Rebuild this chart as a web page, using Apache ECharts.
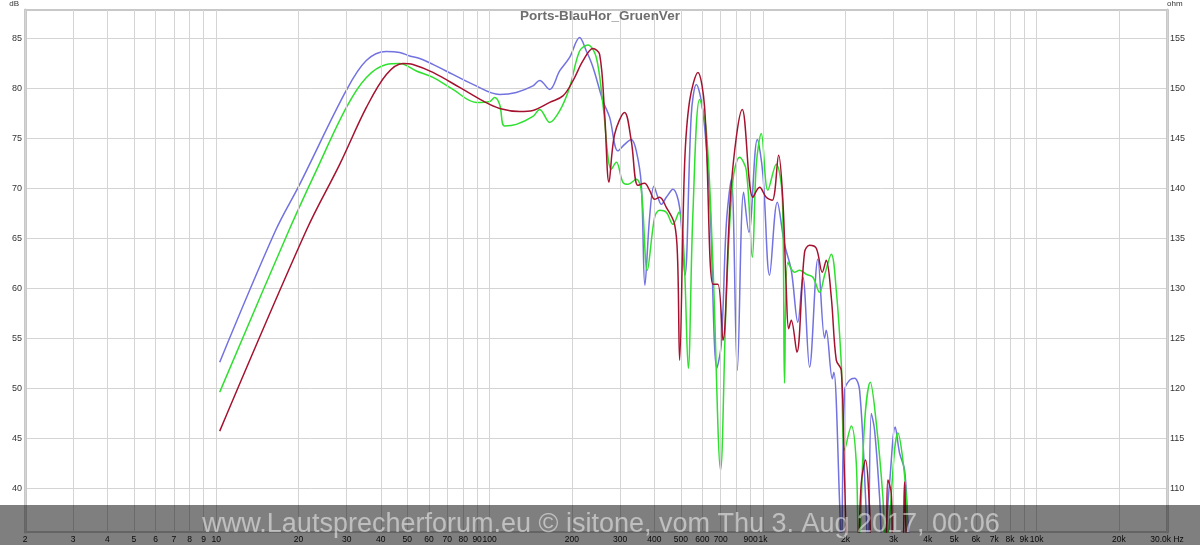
<!DOCTYPE html>
<html>
<head>
<meta charset="utf-8">
<script src="https://cdn.jsdelivr.net/npm/echarts@6/dist/echarts.min.js"></script>
<style>html,body{margin:0;padding:0;background:#fff}#c{width:1200px;height:545px}</style>
</head>
<body>
<div id="c"></div>
<script>
// ---- data (frequency in Hz, level in dB) ----
const blueHz = [10.3,16.5,20.2,29.9,35.4,41.9,46.9,51.0,55.5,62.0,73.4,86.9,108.8,125.2,144,152.4,165.8,180.3,196.1,213.3,225.8,235.4,242.1,259.6,274.7,294.5,311.6,329.6,343.8,358.6,369.6,384.6,398.8,412.5,424.4,442.7,468,495.1,517.7,546.4,570,602.5,637.5,677.9,703.4,733.7,765.3,804.9,848.7,887.3,952.5,998.4,1056,1127,1198,1268,1340,1398,1479,1586,1678,1702,1791,1815,1905,1932,1987,2072,2161,2254,2370,2420,2487,2557,2667,2742,2901,3043,3156,3292,3385,3500,3800];
const blueDb = [52.6,65.8,70.4,79.8,82.8,83.7,83.6,83.25,83.0,82.4,81.4,80.4,79.4,79.6,80.25,80.8,79.9,81.75,83.1,85.1,83.75,82.6,81.6,78.75,77.1,73.75,74.4,74.9,73.75,70.4,60.3,67.1,70.2,69.1,68.4,69.1,69.9,68.1,61.3,77.4,80.4,77.75,69.1,52.0,54.45,66.4,70.9,51.8,69.6,65.6,74.9,71.4,61.3,68.6,64.4,61.8,56.6,61.1,52.1,62.9,55.0,55.8,50.95,51.6,38.5,33,49.8,50.8,51.0,49.8,39.1,33,47.45,45.8,39.1,33,40.5,46.1,43.5,41.8,36.8,33,28];

const greenHz = [10.3,18.46,23.25,29.93,35.42,41.91,46.88,53.95,62.03,73.4,89.41,100,104.3,108.8,113.4,125.2,144,152.4,165.8,180.3,196.1,213.3,228.8,245.5,259.6,278.6,290.6,307.2,320.3,343.8,358.6,377.2,401.2,418.4,442.7,468,492.2,512.1,532.7,553.7,586,620,655.4,699.3,733.7,775.6,820.6,868.1,913.2,944.5,984.9,1041,1117,1176,1198,1232,1304,1360,1439,1521,1609,1678,1776,1852,1932,1987,2102,2192,2236,2350,2466,2594,2742,2810,3026,3111,3245,3339,3420,3800];
const greenDb = [49.6,65.8,71.8,78.1,81.1,82.4,82.5,81.75,81.1,79.9,78.6,78.7,79.1,78.4,76.25,76.4,77.2,77.9,76.6,77.75,80.1,83.75,84.35,83.1,78.4,71.9,72.6,70.6,70.4,70.9,69.8,61.8,67.1,67.8,67.6,66.4,67.6,64.1,52.0,67.4,78.9,75.8,62.4,41.8,59.1,70.8,73.1,71.8,63.1,72.4,75.5,69.8,72.4,69.1,50.5,62.6,61.6,61.8,61.4,61.1,59.6,61.3,63.4,59.8,52.45,43.8,46.2,42.5,33,46.5,50.6,46.5,39.1,33,43.8,45.5,42.8,39.1,33,28];

const redHz = [10.3,21.37,28.29,35.42,41.91,48.2,52.44,62.03,77.66,94.52,108.8,128.8,144,165.8,185.4,201.6,219.3,238.6,252.5,263.4,273.1,286.4,311.6,329.6,348.5,368.7,384.6,401.2,418.4,442.7,474.7,487,495.1,516.4,538.6,577.7,611.2,655.4,683.6,713,765.3,839.4,917.8,971,1027,1080,1140,1181,1216,1240,1268,1329,1418,1479,1565,1646,1702,1776,1852,1932,1987,2042,2180,2286,2370,2451,2510,2790,2860,2943,3000,3215,3292,3385,3800];
const redDb = [45.7,65.8,72.4,78.1,81.4,82.5,82.4,81.6,80.1,78.75,78.0,77.7,77.8,78.6,79.25,80.75,82.75,84.0,83.4,77.4,70.6,75.4,77.6,74.75,70.3,70.5,69.8,68.9,69.1,68.1,66.4,62.8,52.8,72.4,78.75,81.6,78.1,60.4,60.4,54.8,70.4,77.9,69.1,70.1,69.1,68.8,73.3,68.8,59.8,55.95,56.8,53.6,63.6,64.3,64.0,61.6,62.8,59.1,52.8,51.8,40.8,33,30,40.5,42.8,38.1,33,33,40.8,39.5,33,33,40.6,33,28];

// ---- axis ticks ----
const gridFreqs  = [2,3,4,5,6,7,8,9,10,20,30,40,50,60,70,80,90,100,200,300,400,500,600,700,800,900,1000,2000,3000,4000,5000,6000,7000,8000,9000,10000,20000,30000];
const gridLabels = ['2','3','4','5','6','7','8','9','10','20','30','40','50','60','70','80','90','100','200','300','400','500','600','700','','900','1k','2k','3k','4k','5k','6k','7k','8k','9k','10k','20k','30.0k Hz'];
const dbTicks  = [40,45,50,55,60,65,70,75,80,85];
const ohmTicks = [110,115,120,125,130,135,140,145,150,155];

const title = 'Ports-BlauHor_GruenVer';
const watermark = 'www.Lautsprecherforum.eu \u00a9 isitone, vom Thu 3. Aug 2017, 00:06';

function pairs(xs, ys){ return xs.map((x,i)=>[x, ys[i]]); }

const chart = echarts.init(document.getElementById('c'), null, {renderer:'canvas'});
const FONT = 'Liberation Sans, Arial, sans-serif';

chart.setOption({
  animation: false,
  backgroundColor: '#ffffff',
  title: {
    text: title, left: 'center', top: 9, padding: 0,
    textStyle: {fontFamily: FONT, fontSize: 13.5, fontWeight: 'bold', color: '#6e6e6e'}
  },
  grid: {left: 25, right: 33, top: 9, bottom: 13, show: true, borderColor: '#c8c8c8', borderWidth: 2, backgroundColor: '#fff'},
  xAxis: {
    type: 'log', logBase: 10, min: 1.999, max: 30001,
    axisLine: {show: true, lineStyle: {color: '#c8c8c8', width: 2}},
    axisTick: {show: false}, axisLabel: {show: false}, splitLine: {show: false}, minorSplitLine:{show:false}
  },
  yAxis: [
    {
      type: 'value', min: 35.6, max: 87.85, position: 'left',
      name: 'dB', nameLocation: 'end', nameGap: 2,
      nameTextStyle: {fontFamily: FONT, fontSize: 8, color: '#333', align: 'right', padding: [0, 6, 0, 0]},
      axisLine: {show: true, lineStyle: {color: '#c8c8c8', width: 3}},
      axisTick: {show: false, customValues: dbTicks},
      axisLabel: {customValues: dbTicks, fontFamily: FONT, fontSize: 9, color: '#333', margin: 3},
      splitLine: {show: true, lineStyle: {color: '#d4d4d4', width: 1}}
    },
    {
      type: 'value', min: 105.6, max: 157.85, position: 'right',
      name: 'ohm', nameLocation: 'end', nameGap: 2,
      nameTextStyle: {fontFamily: FONT, fontSize: 8, color: '#333', align: 'left', padding: [0, 0, 0, 0]},
      axisLine: {show: true, lineStyle: {color: '#c8c8c8', width: 3}},
      axisTick: {show: false, customValues: ohmTicks},
      axisLabel: {customValues: ohmTicks, fontFamily: FONT, fontSize: 9, color: '#333', margin: 3},
      splitLine: {show: false}
    }
  ],
  series: [
    {
      type: 'line', data: [], z: 1, silent: true,
      markLine: {
        silent: true, symbol: 'none', animation: false,
        lineStyle: {color: '#d4d4d4', width: 1, type: 'solid'},
        label: {show: true, position: 'start', distance: 3, fontFamily: FONT, fontSize: 8.5, color: '#111'},
        data: gridFreqs.map((f, i) => ({
          xAxis: f,
          label: {formatter: gridLabels[i]}
        }))
      }
    },
    {type: 'line', name: 'Blau', data: pairs(blueHz, blueDb), showSymbol: false, smooth: 0.35, z: 3,
     lineStyle: {color: '#7272e0', width: 1.5}, itemStyle: {color: '#7272e0'}},
    {type: 'line', name: 'Gruen', data: pairs(greenHz, greenDb), showSymbol: false, smooth: 0.35, z: 4,
     lineStyle: {color: '#2fe02f', width: 1.5}, itemStyle: {color: '#2fe02f'}},
    {type: 'line', name: 'Rot', data: pairs(redHz, redDb), showSymbol: false, smooth: 0.35, z: 5,
     lineStyle: {color: '#a5122f', width: 1.5}, itemStyle: {color: '#a5122f'}}
  ],
  graphic: [
    {type: 'rect', z: 100, silent: true, shape: {x: 0, y: 505, width: 1200, height: 40}, style: {fill: 'rgba(0,0,0,0.5)'}},
    {type: 'text', z: 101, silent: true, x: 601, y: 525,
     style: {text: watermark, fill: 'rgba(255,255,255,0.5)', font: '27px Liberation Sans, Arial, sans-serif', textAlign: 'center', textVerticalAlign: 'middle'}}
  ]
});
</script>
</body>
</html>
